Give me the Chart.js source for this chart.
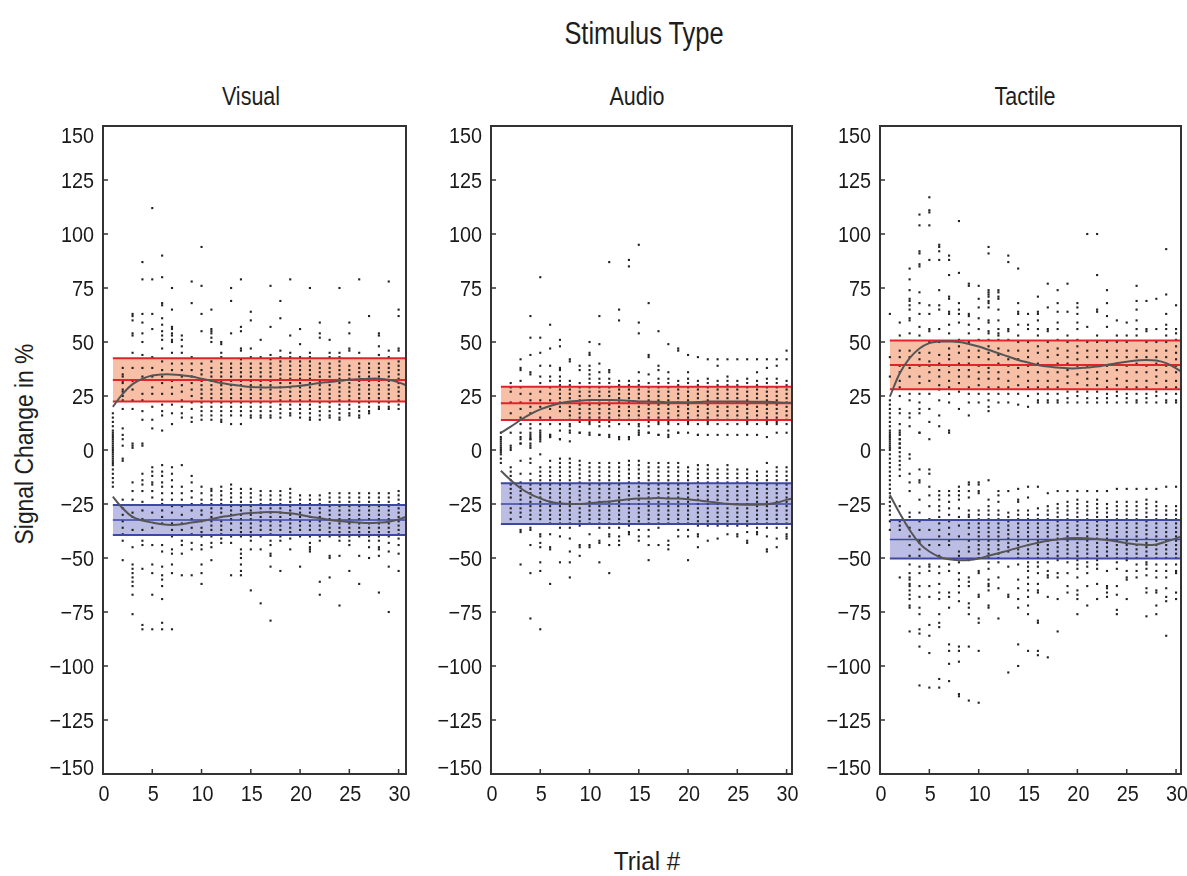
<!DOCTYPE html>
<html>
<head>
<meta charset="utf-8">
<script src="https://cdn.jsdelivr.net/npm/chart.js@4.4.0/dist/chart.umd.min.js"></script>
<style>
  body { margin: 0; background: #fff; width: 1187px; height: 876px; position: relative; overflow: hidden;
         font-family: "Liberation Sans", Arial, sans-serif; color: #1e1e1e; }
  .box { position: absolute; top: 116px; height: 697px; }
  .txt { position: absolute; white-space: nowrap; line-height: 1; }
</style>
</head>
<body>
<div class="txt" id="mainTitle" style="left:644px;top:18px;font-size:31px;transform:translateX(-50%) scaleX(0.82)">Stimulus Type</div>
<div class="txt" id="xTitle" style="left:647px;top:849px;font-size:25px;transform:translateX(-50%) scaleX(0.97)">Trial #</div>
<div class="txt" id="yTitle" style="left:24px;top:444px;font-size:25px;transform:translate(-50%,-50%) rotate(-90deg) scaleX(0.915)">Signal Change in %</div>

<div class="box" id="box0"><canvas id="c0"></canvas></div>
<div class="box" id="box1"><canvas id="c1"></canvas></div>
<div class="box" id="box2"><canvas id="c2"></canvas></div>

<script>
// ---- data ----
const panelTitles = ['Visual', 'Audio', 'Tactile'];
const titleCenters = [251, 637, 1025];
const trials = [1,2,3,4,5,6,7,8,9,10,11,12,13,14,15,16,17,18,19,20,21,22,23,24,25,26,27,28,29,30];
const fitTrials = [1,2,3,4,5,6,7,8,9,10,11,12,13,14,15,16,17,18,19,20,21,22,23,24,25,26,27,28,29,30,31];
const xTicks = [0, 5, 10, 15, 20, 25, 30];
const yTicks = [150, 125, 100, 75, 50, 25, 0, -25, -50, -75, -100, -125, -150];

// shaded bands: low / mean / high
const posBandLow  = [22.4, 13.9, 28.1];
const posBandMean = [32.4, 21.6, 39.4];
const posBandHigh = [42.5, 29.3, 50.7];
const negBandLow  = [-39.4, -34.3, -50.2];
const negBandMean = [-32.4, -25, -41.4];
const negBandHigh = [-25.5, -15.4, -32.4];

// smooth fit curves (value at each trial, last value = right edge)
const visualPosFit = [20,26,30.5,33,34.5,35,35,34.6,34,33,32,31,30.3,29.7,29.2,29,29,29,29.3,29.7,30.3,31,31.5,32,32.5,32.8,33,33,32.5,31.3,29.5];
const visualNegFit = [-21.6,-27,-31,-32.6,-33.6,-34.4,-34.7,-34.4,-33.6,-32.9,-32,-31,-30.4,-29.6,-29.2,-28.9,-28.7,-28.9,-29.3,-30,-30.9,-31.6,-32.4,-32.9,-33.3,-33.6,-33.8,-33.6,-33.2,-32.1,-30.5];
const audioPosFit = [8,10.8,13.9,16.6,18.8,20.4,21.6,22.4,22.8,23.1,23.1,23.1,23,22.8,22.5,22.4,22.3,22.1,22.1,22.1,22.2,22.4,22.5,22.5,22.5,22.4,22.3,22.3,22.1,21.9,21.8];
const audioNegFit = [-9.6,-13.9,-17.7,-20.4,-22.4,-24,-24.7,-25,-25,-24.7,-24.2,-23.8,-23.3,-22.8,-22.5,-22.4,-22.2,-22.4,-22.5,-22.8,-23.3,-23.9,-24.4,-24.9,-25.2,-25.3,-25.3,-25.1,-24.4,-23.1,-22];
const tactilePosFit = [24.7,35.5,42.5,47,49.5,50.2,50.2,50,49.1,47.9,46.4,44.8,43.3,41.7,40.5,39.4,38.6,38.2,37.8,37.8,38.2,38.6,39.4,40.2,40.9,41.4,41.7,41.4,40.2,37.8,35];
const tactileNegFit = [-20.8,-29.3,-37,-43.2,-47,-49.4,-50.6,-51,-50.9,-50.2,-49,-47.8,-46.6,-45.2,-44,-42.9,-42,-41.4,-40.9,-40.7,-40.9,-41.2,-41.7,-42.4,-43.2,-43.7,-44,-43.7,-42.4,-40.9,-39.5];

// individual observations, one list per trial
const visualDots = [
  [17,15,13,11,9,8,7,6,5,4,3,2,1,0,-1,-2,-3,-4,-5,-6,-7,-9,-11,-13,-15,-17],
  [38,35,34,32,31,28,27,25,23,19,10,7,5,2,-4,-5,-23,-27,-30,-33,-36,-39,-42,-51],
  [63,62,60,54,53,45,38,32,28,23,19,3,2,1,-15,-19,-23,-29,-31,-37,-45,-53,-55,-57,-59,-61,-63,-67,-76],
  [87,79,63,59,54,50,44,38,34,26,23,18,14,3,2,-11,-14,-16,-19,-24,-28,-32,-37,-42,-44,-55,-81,-83],
  [112,79,63,56,43,38,34,29,26,20,14,10,-8,-10,-12,-15,-16,-19,-22,-29,-36,-44,-53,-57,-67,-83],
  [90,80,68,67,61,58,55,53,51,47,41,37,34,31,26,21,18,16,9,-7,-10,-12,-15,-17,-20,-23,-25,-28,-31,-34,-44,-47,-54,-58,-60,-63,-69,-80,-83],
  [75,65,57,56,54,53,51,50,45,40,37,32,29,26,21,17,12,-8,-11,-14,-17,-20,-23,-26,-29,-34,-37,-40,-46,-48,-53,-57,-83],
  [53,51,48,45,40,37,34,30,27,23,20,17,15,-7,-17,-20,-23,-26,-30,-34,-37,-42,-44,-48,-58],
  [78,68,43,40,37,34,31,28,25,22,19,15,13,-12,-15,-19,-22,-25,-28,-32,-36,-39,-43,-46,-58],
  [94,76,63,55,40,37,35,32,30,28,26,24,22,20,18,16,14,-17,-20,-23,-25,-28,-30,-33,-36,-38,-40,-44,-46,-53,-57,-62],
  [65,56,55,54,52,50,41,38,36,34,32,30,28,26,24,22,20,18,16,14,-18,-19,-21,-23,-25,-27,-29,-31,-33,-35,-37,-40,-43,-45,-51],
  [50,49,45,43,40,38,36,34,32,30,28,26,24,22,20,18,16,14,13,-17,-19,-21,-23,-25,-27,-29,-31,-33,-35,-37,-39,-41,-43],
  [75,69,54,40,38,36,34,32,30,28,26,24,22,20,18,16,12,-16,-18,-20,-22,-24,-26,-28,-30,-32,-34,-37,-40,-43,-58],
  [79,57,55,47,46,42,40,38,36,34,32,30,28,26,24,22,20,18,16,12,-18,-20,-22,-24,-26,-28,-30,-32,-34,-36,-38,-40,-46,-48,-50,-53,-56,-58],
  [64,60,47,43,40,38,36,34,32,30,28,26,24,22,20,18,16,15,-18,-20,-22,-24,-26,-28,-30,-32,-34,-36,-38,-40,-42,-46,-65],
  [51,43,40,38,36,34,32,30,28,26,24,22,20,18,16,15,-19,-21,-23,-25,-27,-29,-31,-33,-35,-37,-40,-46,-71],
  [76,57,44,42,40,38,36,34,32,30,28,26,24,22,20,18,16,15,-19,-21,-23,-25,-27,-29,-31,-33,-35,-37,-39,-42,-44,-48,-49,-54,-79],
  [69,61,46,43,41,39,37,35,33,31,29,27,25,23,21,19,17,15,-19,-21,-23,-25,-27,-29,-31,-33,-35,-37,-40,-42,-56],
  [79,53,45,43,41,39,37,35,33,31,29,27,25,23,21,19,17,16,-18,-20,-22,-24,-26,-28,-30,-32,-34,-36,-38,-41,-46],
  [56,49,43,41,39,37,35,33,31,29,27,25,23,21,19,17,15,-21,-23,-25,-27,-29,-31,-33,-35,-37,-40,-54],
  [75,45,43,41,39,37,35,33,31,29,27,25,23,21,19,17,15,14,-21,-23,-25,-27,-29,-31,-33,-35,-37,-40,-43,-45,-46,-47],
  [59,54,52,40,38,36,34,32,30,28,26,24,22,20,18,16,14,-21,-23,-25,-27,-29,-31,-33,-35,-37,-40,-42,-61,-67],
  [51,45,43,40,38,36,34,32,30,28,26,24,22,20,18,16,15,-20,-22,-24,-26,-28,-30,-32,-34,-36,-38,-40,-49,-50,-59],
  [75,45,43,41,39,37,35,33,31,29,27,25,23,21,19,17,15,14,-20,-22,-24,-26,-28,-30,-32,-34,-36,-38,-40,-42,-49,-72],
  [59,54,47,46,39,37,35,33,31,29,27,25,23,21,19,17,16,-20,-22,-24,-26,-28,-30,-32,-34,-36,-38,-40,-42,-44,-56],
  [79,45,40,38,36,34,32,30,28,26,24,22,20,18,16,15,-20,-22,-24,-26,-28,-30,-32,-34,-36,-38,-40,-49,-62],
  [62,40,38,36,34,32,30,28,26,24,22,20,18,17,-20,-22,-24,-26,-28,-30,-32,-34,-36,-38,-40,-42,-45,-50],
  [54,53,48,44,40,38,36,34,32,30,28,26,24,22,20,19,-20,-22,-24,-26,-28,-30,-32,-34,-36,-38,-40,-42,-45,-46,-49,-66],
  [78,46,43,40,38,36,34,32,30,28,26,24,22,20,19,-20,-22,-24,-26,-28,-30,-32,-34,-36,-38,-40,-43,-47,-54,-75],
  [65,62,47,46,41,39,37,35,33,31,29,27,25,23,21,19,-19,-21,-23,-25,-27,-29,-31,-33,-35,-37,-39,-41,-44,-48,-56]
];

const audioDots = [
  [8,5,3,6,4,2,1,0,-1,-2,-4,-6],
  [31,29,27,22,17,8,2,1,0,-8,-10,-12,-14,-16,-18,-20,-22,-27,-29,-32],
  [42,38,37,32,29,26,22,19,15,12,8,5,3,6,3,-5,-11,-15,-17,-19,-21,-23,-25,-27,-29,-31,-37,-38,-53],
  [62,52,44,36,35,26,23,20,17,12,10,8,6,5,2,7,5,3,1,-4,-6,-11,-14,-16,-18,-20,-22,-24,-26,-28,-30,-32,-36,-37,-44,-57,-78],
  [80,52,45,39,34,31,27,23,20,15,12,9,7,5,8,6,4,-2,-8,-10,-12,-14,-16,-18,-20,-22,-24,-26,-28,-30,-32,-39,-40,-43,-45,-52,-56,-83],
  [58,47,39,34,32,29,26,23,19,15,12,7,6,7,6,-5,-8,-10,-12,-14,-16,-18,-20,-22,-24,-26,-28,-30,-32,-34,-39,-45,-46,-62],
  [51,48,38,37,34,32,30,28,26,24,22,20,18,12,9,5,5,-4,-6,-8,-10,-12,-14,-16,-18,-20,-22,-24,-26,-28,-30,-32,-34,-36,-40,-52],
  [42,41,32,30,28,26,24,22,20,18,16,14,12,11,9,8,4,-4,-6,-8,-10,-12,-14,-16,-18,-20,-22,-24,-26,-28,-30,-32,-34,-36,-41,-47,-52,-59],
  [39,37,31,29,27,25,23,21,19,17,15,13,8,8,-5,-7,-9,-11,-13,-15,-17,-19,-21,-23,-25,-27,-29,-31,-33,-35,-44,-45,-49],
  [50,45,44,39,37,35,33,31,29,27,25,23,21,19,17,15,13,12,8,7,-6,-8,-10,-12,-14,-16,-18,-20,-22,-24,-26,-28,-30,-32,-34,-39,-44,-45],
  [62,49,40,36,33,31,29,27,25,23,21,19,17,15,13,11,7,7,-6,-8,-10,-12,-14,-16,-18,-20,-22,-24,-26,-28,-30,-32,-34,-36,-42,-43,-52],
  [87,37,36,33,31,29,27,25,23,21,19,17,15,13,11,6,7,-6,-8,-10,-12,-14,-16,-18,-20,-22,-24,-26,-28,-30,-32,-34,-36,-39,-40,-44,-57],
  [65,60,32,30,28,26,24,22,20,18,16,14,12,5,6,-6,-8,-10,-12,-14,-16,-18,-20,-22,-24,-26,-28,-30,-32,-34,-36,-40,-42,-44],
  [88,85,32,30,28,26,24,22,20,18,16,14,12,5,6,-5,-7,-9,-11,-13,-15,-17,-19,-21,-23,-25,-27,-29,-31,-33,-35,-38,-39],
  [95,59,54,36,32,30,28,26,24,22,20,18,16,14,12,11,9,7,8,-5,-7,-9,-11,-13,-15,-17,-19,-21,-23,-25,-27,-29,-31,-33,-37,-40,-42],
  [68,44,43,35,31,29,27,25,23,21,19,17,15,13,11,8,8,-6,-8,-10,-12,-14,-16,-18,-20,-22,-24,-26,-28,-30,-32,-34,-37,-40,-44,-51],
  [55,39,37,33,31,29,27,25,23,21,19,17,15,13,12,7,7,-6,-8,-10,-12,-14,-16,-18,-20,-22,-24,-26,-28,-30,-32,-34,-36,-44],
  [49,36,33,31,29,27,25,23,21,19,17,15,13,12,9,6,7,-6,-8,-10,-12,-14,-16,-18,-20,-22,-24,-26,-28,-30,-32,-34,-42,-44,-46],
  [47,46,32,30,28,26,24,22,20,18,16,14,12,8,8,-6,-8,-10,-12,-14,-16,-18,-20,-22,-24,-26,-28,-30,-32,-34,-37,-40],
  [44,36,33,31,29,27,25,23,21,19,17,15,13,12,8,-8,-10,-12,-14,-16,-18,-20,-22,-24,-26,-28,-30,-32,-34,-37,-40,-51],
  [43,32,30,28,26,24,22,20,18,16,14,12,7,7,-7,-9,-11,-13,-15,-17,-19,-21,-23,-25,-27,-29,-31,-33,-35,-39,-40,-45],
  [42,33,31,29,27,25,23,21,19,17,15,13,12,7,-7,-9,-11,-13,-15,-17,-19,-21,-23,-25,-27,-29,-31,-33,-35,-42],
  [42,39,32,30,28,26,24,22,20,18,16,14,12,7,-9,-11,-13,-15,-17,-19,-21,-23,-25,-27,-29,-31,-33,-35,-41],
  [42,34,32,30,28,26,24,22,20,18,16,14,12,7,-7,-9,-11,-13,-15,-17,-19,-21,-23,-25,-27,-29,-31,-33,-35,-39],
  [42,32,30,28,26,24,22,20,18,16,14,12,7,-9,-11,-13,-15,-17,-19,-21,-23,-25,-27,-29,-31,-33,-35,-39,-40],
  [42,33,31,29,27,25,23,21,19,17,15,13,12,7,-9,-11,-13,-15,-17,-19,-21,-23,-25,-27,-29,-31,-33,-35,-38,-42,-43],
  [42,36,32,30,28,26,24,22,20,18,16,14,12,7,-10,-12,-14,-16,-18,-20,-22,-24,-26,-28,-30,-32,-34,-36,-38,-39],
  [42,38,33,31,29,27,25,23,21,19,17,15,13,12,6,-6,-10,-12,-14,-16,-18,-20,-22,-24,-26,-28,-30,-32,-34,-36,-40,-46,-47],
  [42,39,33,31,29,27,25,23,21,19,17,15,13,12,8,-8,-10,-12,-14,-16,-18,-20,-22,-24,-26,-28,-30,-32,-34,-36,-41,-45],
  [46,42,32,30,28,26,24,22,20,18,16,14,12,8,-8,-10,-12,-14,-16,-18,-20,-22,-24,-26,-28,-30,-32,-34,-36,-39,-40,-41]
];

const tactileDots = [
  [63,43,34,23,21,19,17,15,13,11,9,7,5,3,1,8,6,4,2,0,-2,-4,-6,-8,-10,-12,-14,-16,-18,-20,-22,-24,-26,-28,-30,-33,-37],
  [59,53,46,43,39,36,32,29,25,19,17,12,8,5,3,1,9,7,5,3,1,-1,-3,-5,-7,-9,-12,-26,-33,-35,-37,-59],
  [84,79,74,70,69,67,65,61,60,54,46,43,38,34,26,23,17,15,11,-2,-4,-11,-15,-19,-29,-31,-36,-40,-44,-49,-53,-57,-59,-60,-62,-63,-65,-67,-69,-72,-73,-84],
  [109,104,92,91,86,85,73,68,63,57,53,45,42,39,34,31,26,22,19,17,8,8,-9,-14,-15,-23,-29,-33,-37,-42,-43,-46,-49,-54,-57,-63,-68,-73,-76,-83,-85,-91,-109],
  [117,111,110,104,88,67,63,56,55,50,45,41,39,36,32,26,19,13,5,-9,-11,-17,-21,-26,-32,-37,-44,-53,-54,-56,-63,-68,-81,-86,-94,-110],
  [95,94,92,88,74,67,65,56,50,44,40,37,34,30,28,23,16,11,-19,-21,-23,-26,-28,-31,-34,-37,-40,-44,-49,-54,-57,-62,-66,-69,-76,-80,-82,-106,-110],
  [90,88,81,71,70,64,63,58,54,47,44,42,39,36,32,29,26,22,8,9,-19,-21,-24,-27,-30,-33,-36,-39,-42,-44,-53,-56,-66,-68,-73,-90,-93,-99,-107],
  [106,82,68,65,63,59,51,48,45,40,37,34,31,27,19,-17,-19,-21,-23,-27,-31,-35,-40,-47,-49,-52,-57,-60,-63,-66,-70,-91,-93,-98,-113,-114],
  [77,76,63,62,58,54,50,46,43,40,37,34,29,26,22,16,-15,-16,-19,-22,-28,-30,-31,-34,-36,-39,-42,-45,-47,-51,-59,-61,-63,-71,-73,-76,-91,-116],
  [76,70,66,61,56,51,46,43,39,36,33,30,26,22,-15,-16,-19,-20,-28,-30,-32,-34,-36,-38,-40,-42,-44,-46,-48,-50,-56,-57,-67,-68,-78,-80,-93,-117],
  [94,91,74,73,72,71,69,68,66,60,59,55,54,51,48,45,42,38,36,33,29,26,23,20,18,-14,-23,-26,-28,-30,-32,-34,-36,-38,-40,-42,-44,-46,-48,-50,-52,-55,-60,-62,-63,-65,-72,-73],
  [74,73,71,70,65,60,56,54,53,51,47,44,40,36,33,29,26,22,-19,-21,-24,-28,-30,-32,-34,-36,-38,-40,-42,-44,-46,-48,-50,-52,-59,-64,-78],
  [90,87,56,55,51,46,42,39,36,32,29,26,22,-19,-29,-31,-33,-35,-37,-39,-41,-43,-45,-47,-54,-67,-68,-103],
  [84,68,64,63,58,53,50,46,42,38,34,30,26,21,-18,-23,-24,-28,-30,-32,-34,-36,-38,-40,-42,-44,-46,-48,-50,-53,-60,-64,-69,-73,-90,-100],
  [63,58,56,50,46,43,39,36,32,29,25,20,-17,-22,-28,-30,-32,-34,-36,-38,-40,-42,-44,-46,-48,-50,-52,-54,-56,-59,-62,-65,-68,-72,-76,-93],
  [71,64,63,60,56,53,48,45,40,36,32,29,26,23,22,-17,-27,-30,-32,-34,-36,-38,-40,-42,-44,-46,-48,-50,-52,-54,-57,-62,-65,-66,-79,-80,-93,-95],
  [77,66,56,55,50,46,43,39,36,32,29,26,23,22,-20,-26,-28,-30,-32,-34,-36,-38,-40,-42,-44,-46,-48,-50,-52,-56,-58,-59,-68,-96],
  [74,68,64,59,56,51,47,44,40,36,32,29,26,23,22,-19,-25,-27,-29,-31,-33,-35,-37,-39,-41,-43,-45,-47,-49,-51,-57,-59,-69,-84],
  [77,64,53,50,46,43,40,37,34,31,27,24,22,-19,-24,-26,-28,-30,-32,-34,-36,-38,-40,-42,-44,-46,-48,-50,-52,-57,-63,-66],
  [68,66,63,59,56,51,48,45,42,39,35,31,27,25,22,-19,-23,-25,-27,-29,-31,-33,-35,-37,-39,-41,-43,-45,-47,-49,-51,-53,-55,-59,-65,-67,-69,-76],
  [100,57,50,46,43,39,36,33,30,27,24,22,-19,-24,-26,-28,-30,-32,-34,-36,-38,-40,-42,-44,-46,-48,-50,-52,-54,-57,-63,-72],
  [100,81,65,64,53,50,46,43,39,36,33,30,27,24,22,-19,-23,-25,-27,-29,-31,-33,-35,-37,-39,-41,-43,-45,-47,-49,-51,-53,-55,-62,-69],
  [74,68,62,57,50,46,43,39,36,32,29,26,24,22,-19,-25,-27,-29,-31,-33,-35,-37,-39,-41,-43,-45,-47,-49,-56,-63,-64,-66,-68],
  [60,53,50,46,43,40,37,33,30,27,25,22,-18,-24,-26,-28,-30,-32,-34,-36,-38,-40,-42,-44,-46,-48,-50,-52,-55,-63,-67,-74,-76],
  [59,53,50,46,43,39,36,32,29,26,24,22,-18,-24,-26,-28,-30,-32,-34,-36,-38,-40,-42,-44,-46,-48,-50,-51,-56,-59,-60,-69],
  [76,69,65,60,56,53,46,43,40,36,32,29,26,23,22,-18,-24,-26,-28,-30,-32,-34,-36,-38,-40,-42,-44,-46,-48,-50,-53,-56,-59],
  [69,56,55,50,46,43,39,36,32,29,26,24,22,-18,-23,-25,-27,-29,-31,-33,-35,-37,-39,-41,-43,-45,-47,-49,-52,-53,-55,-58,-64,-66,-77],
  [70,56,50,46,43,40,37,34,31,27,25,22,-18,-24,-26,-28,-30,-32,-34,-36,-38,-40,-42,-44,-46,-48,-50,-53,-56,-59,-65,-66,-72,-76],
  [93,72,63,58,56,53,50,46,43,39,36,32,29,26,23,22,-17,-26,-28,-30,-32,-34,-36,-38,-40,-42,-44,-46,-48,-50,-53,-56,-59,-64,-68,-70,-86],
  [67,56,54,51,48,45,42,39,36,32,29,26,23,22,-17,-26,-28,-30,-32,-34,-36,-38,-40,-42,-44,-46,-48,-50,-53,-56,-57,-66,-69]
];

const dotSets = [visualDots, audioDots, tactileDots];
const posFits = [visualPosFit, audioPosFit, tactilePosFit];
const negFits = [visualNegFit, audioNegFit, tactileNegFit];
const xMax = [30.75, 30.55, 30.5];

// ---- layout ----
const plotLeft = [103, 491, 880];
const plotRight = [406, 792, 1181];
const AXIS_W = 70, AXIS_H = 40, PAD_TOP = 10, PAD_RIGHT = 6;

const font = '"Liberation Sans", Arial, sans-serif';

function label(ctx, text, x, y, align) {
  ctx.save();
  ctx.translate(x, y);
  ctx.scale(0.9, 1);
  ctx.textAlign = align;
  ctx.fillText(text, 0, 0);
  ctx.restore();
}

function fmt(v) {
  return v < 0 ? '\u2212' + Math.abs(v) : String(v);
}

// box, inward ticks and tick labels
const framePlugin = {
  id: 'frame',
  afterDraw(chart) {
    const { ctx, chartArea: a, scales: { x, y } } = chart;
    ctx.save();
    ctx.strokeStyle = '#333';
    ctx.lineWidth = 2;
    ctx.strokeRect(a.left, a.top, a.right - a.left, a.bottom - a.top);
    ctx.lineWidth = 1.5;
    ctx.beginPath();
    xTicks.forEach(v => {
      const px = x.getPixelForValue(v);
      ctx.moveTo(px, a.bottom);
      ctx.lineTo(px, a.bottom - 5);
    });
    yTicks.forEach(v => {
      const py = y.getPixelForValue(v);
      ctx.moveTo(a.left, py);
      ctx.lineTo(a.left + 5, py);
    });
    ctx.stroke();

    ctx.fillStyle = '#1a1a1a';
    ctx.font = '22px ' + font;
    ctx.textBaseline = 'alphabetic';
    yTicks.forEach(v => {
      let py = y.getPixelForValue(v);
      py = Math.min(Math.max(py, a.top + 9), a.bottom - 7);
      label(ctx, fmt(v), a.left - 9, py + 8, 'right');
    });
    xTicks.forEach(v => {
      const px = x.getPixelForValue(v) + 1;
      label(ctx, String(v), px, a.bottom + 27, 'center');
    });
    ctx.restore();
  }
};

function dotPoints(cols) {
  const pts = [];
  cols.forEach((vals, i) => vals.forEach(v => pts.push({ x: trials[i], y: v })));
  return pts;
}

function hline(v, xEnd) {
  return [{ x: trials[0], y: v }, { x: xEnd, y: v }];
}

function fitPoints(vals) {
  return vals.map((v, i) => ({ x: fitTrials[i], y: v }));
}

const RED = '#e3222a', RED_FILL = 'rgba(244,180,150,0.85)';
const BLUE = '#3d47a4', BLUE_FILL = 'rgba(176,178,224,0.85)';
const CURVE = '#555555';

for (let p = 0; p < 3; p++) {
  const w = AXIS_W + (plotRight[p] - plotLeft[p]) + PAD_RIGHT;
  const h = PAD_TOP + (774 - 126) + AXIS_H;
  const box = document.getElementById('box' + p);
  box.style.left = (plotLeft[p] - AXIS_W) + 'px';
  box.style.width = w + 'px';
  box.style.height = h + 'px';
  const canvas = document.getElementById('c' + p);
  canvas.width = w;
  canvas.height = h;

  // panel title
  const t = document.createElement('div');
  t.className = 'txt';
  t.textContent = panelTitles[p];
  t.style.cssText = 'left:' + titleCenters[p] + 'px;top:84px;font-size:25px;transform:translateX(-50%) scaleX(0.86)';
  document.body.appendChild(t);

  const band = (v, fill, color, extra) => Object.assign({
    type: 'line', data: hline(v, xMax[p]), borderColor: color, borderWidth: 2,
    pointRadius: 0, fill: false, backgroundColor: fill, order: 1
  }, extra || {});

  new Chart(canvas, {
    type: 'scatter',
    data: {
      datasets: [
        { type: 'line', data: fitPoints(posFits[p]), borderColor: CURVE, borderWidth: 2, tension: 0.4, pointRadius: 0, fill: false, order: 0 },
        { type: 'line', data: fitPoints(negFits[p]), borderColor: CURVE, borderWidth: 2, tension: 0.4, pointRadius: 0, fill: false, order: 0 },
        band(posBandHigh[p], RED_FILL, RED, { fill: '+1' }),
        band(posBandLow[p], RED_FILL, RED),
        band(posBandMean[p], RED_FILL, RED),
        band(negBandHigh[p], BLUE_FILL, BLUE, { fill: '+1' }),
        band(negBandLow[p], BLUE_FILL, BLUE),
        band(negBandMean[p], BLUE_FILL, BLUE, { borderWidth: 1.5 }),
        { data: dotPoints(dotSets[p]), pointStyle: 'rect', pointRadius: 1.5, borderWidth: 0, backgroundColor: '#222', order: 2 }
      ]
    },
    options: {
      responsive: false,
      animation: false,
      events: [],
      layout: { padding: { top: PAD_TOP, right: PAD_RIGHT, left: 0, bottom: 0 } },
      plugins: {
        legend: { display: false },
        tooltip: { enabled: false },
        filler: { drawTime: 'beforeDatasetsDraw' }
      },
      scales: {
        x: {
          type: 'linear', min: 0, max: xMax[p],
          grid: { display: false }, border: { display: false },
          ticks: { display: false },
          afterFit: s => { s.height = AXIS_H; }
        },
        y: {
          type: 'linear', min: -150, max: 150,
          grid: { display: false }, border: { display: false },
          ticks: { display: false },
          afterFit: s => { s.width = AXIS_W; }
        }
      }
    },
    plugins: [framePlugin]
  });
}
</script>
</body>
</html>
